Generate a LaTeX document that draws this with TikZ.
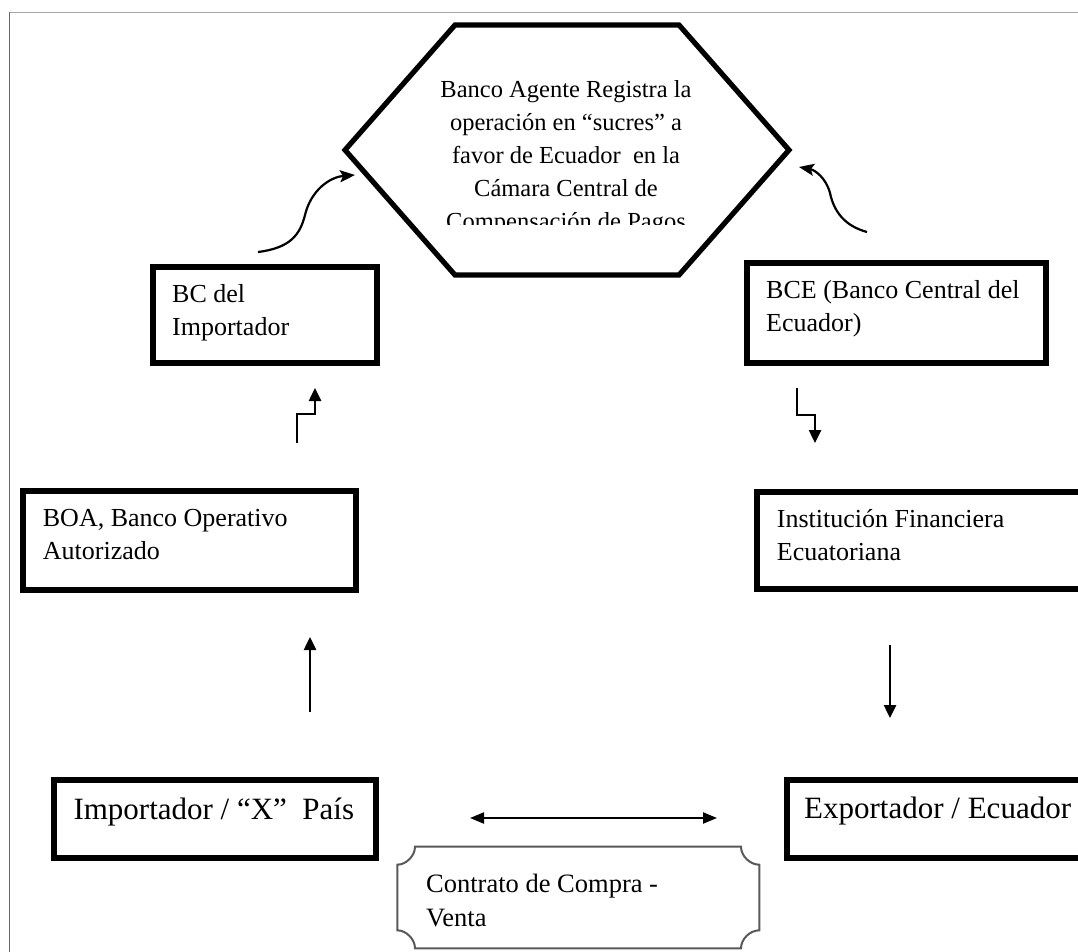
\documentclass[tikz,border=0pt]{standalone}
\usepackage{fontspec}
\setmainfont{Liberation Serif}
\usetikzlibrary{arrows.meta}
\begin{document}
\begin{tikzpicture}[x=1pt,y=-1pt,
  box/.style={draw=black,line width=5.5pt,rectangle,inner sep=0pt},
  txt/.style={anchor=base west,inner sep=0pt,font=\fontsize{26}{33}\selectfont},
  bigtxt/.style={anchor=base west,inner sep=0pt,font=\fontsize{31}{36}\selectfont},
  arr/.style={line width=2.5pt,-{Triangle[length=13pt,width=12pt]}},
  carr/.style={line width=2.2pt,-{Stealth[length=15pt,width=12pt,inset=3pt]}},
  darr/.style={line width=2.2pt,{Triangle[length=14pt,width=11pt]}-{Triangle[length=14pt,width=11pt]}},
  scrollline/.style={draw=black!65,line width=2pt},
]
\useasboundingbox (0,0) rectangle (1078,952);
\clip (0,0) rectangle (1078,952);
\fill[white] (0,0) rectangle (1078,952);
% page frame
\draw[black!35,line width=1.5pt] (9,12.7) -- (1078,12.7);
\draw[black!60,line width=1.5pt] (9.3,12) -- (9.3,952);

% hexagon
\coordinate (hexc) at (567,150);
\draw[line width=5.2pt,line join=miter] (345,150) -- (455,25) -- (679,25) -- (789,150) -- (679,275) -- (455,275) -- cycle;
\begin{scope}
  \clip (400,30) rectangle (740,224);
  \node[anchor=base,inner sep=0pt,font=\fontsize{24.5}{33}\selectfont] (hext) at (566,98)
    {\parbox[t]{330pt}{\centering Banco Agente Registra la\\operación en “sucres” a\\favor de Ecuador~ en la\\Cámara Central de\\Compensación de Pagos}};
\end{scope}

% boxes
\node[box,minimum width=224,minimum height=96] (bci) at (265,315) {};
\node[txt] (bcit) at (172,302) {\parbox[t]{200pt}{BC del\\Importador}};

\node[box,minimum width=299,minimum height=100] (bce) at (896.5,313) {};
\node[txt] (bcet) at (766,298.5) {\parbox[t]{290pt}{BCE (Banco Central del\\Ecuador)}};

\node[box,minimum width=333,minimum height=99] (boa) at (189.5,540.5) {};
\node[txt] (boat) at (42.7,526.7) {\parbox[t]{300pt}{BOA, Banco Operativo\\Autorizado}};

\node[box,minimum width=363,minimum height=97] (ife) at (938.5,540.5) {};
\node[txt] (ifet) at (776.7,527.3) {\parbox[t]{300pt}{Institución Financiera\\Ecuatoriana}};

\node[box,minimum width=322,minimum height=78] (imp) at (215,819) {};
\node[bigtxt] (impt) at (73.3,819) {Importador / “X”~ País};

\node[box,minimum width=333,minimum height=78] (exp) at (953.5,819) {};
\node[bigtxt] (expt) at (804,818) {Exportador / Ecuador};

% contract scroll
\draw[scrollline] (415,846.7) -- (741,846.7)
  .. controls (741,856) and (750,864.7) .. (759.3,864.7) -- (759.3,930.3)
  .. controls (750,930.3) and (741,939) .. (741,948.3) -- (415,948.3)
  .. controls (415,939) and (406,930.3) .. (397.3,930.3) -- (397.3,864.7)
  .. controls (406,864.7) and (415,856) .. (415,846.7) -- cycle;
\node[anchor=base west,inner sep=0pt,font=\fontsize{26.5}{34}\selectfont] (cont) at (426,892)
  {\parbox[t]{300pt}{Contrato de Compra -\\Venta}};

% connector end points
\coordinate (a1s) at (258,252);  \coordinate (a1e) at (355,175);
\coordinate (a2s) at (867,232);  \coordinate (a2e) at (799,167);
\coordinate (s1s) at (297,443);  \coordinate (s1e) at (315,388);
\coordinate (s2s) at (797,388);  \coordinate (s2e) at (815,443);
\coordinate (v1s) at (310,712);  \coordinate (v1e) at (310,637);
\coordinate (v2s) at (890,645);  \coordinate (v2e) at (890,718);
\coordinate (hl) at (470,818);   \coordinate (hr) at (717,818);

% curved arrows to hexagon
\draw[carr] (a1s) .. controls (290,248) and (300,235) .. (305,215)
  .. controls (311,190) and (330,177) .. (a1e);
\draw[carr] (a2s) .. controls (845,226) and (834,212) .. (830,193)
  .. controls (826,178) and (815,170) .. (a2e);

% step arrows
\draw[arr] (s1s) |- (306,414) -| (s1e);
\draw[arr] (s2s) |- (806,415) -| (s2e);

% straight arrows
\draw[arr] (v1s) -- (v1e);
\draw[arr] (v2s) -- (v2e);
\draw[darr] (hl) -- (hr);
\end{tikzpicture}
\end{document}
